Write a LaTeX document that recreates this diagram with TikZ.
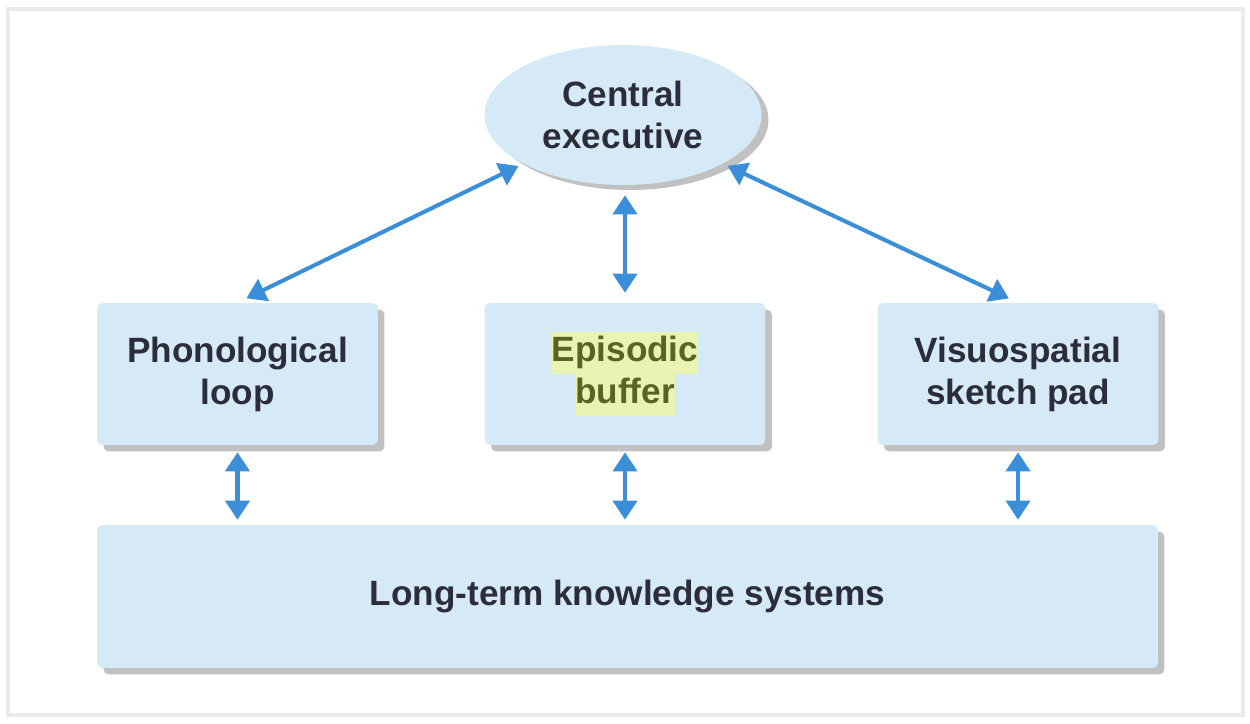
\documentclass[tikz,border=0pt]{standalone}
\usepackage{fontspec}
\setmainfont{Liberation Sans}
\usepackage{xcolor}
\usepackage{tikz}
\usetikzlibrary{arrows.meta,shapes.geometric,shadows}

\definecolor{boxblue}{HTML}{D6E9F6}
\definecolor{arrowblue}{HTML}{3A8FD8}
\definecolor{textdark}{HTML}{2B2D3A}
\definecolor{hlyellow}{HTML}{EAF3B2}
\definecolor{hltext}{HTML}{5B6320}

\newcommand{\surligne}[1]{{\setlength{\fboxsep}{0pt}\colorbox{hlyellow}{\strut #1}}}

\begin{document}
\begin{tikzpicture}[x=0.02cm,y=-0.02cm,
   double arrow/.style={{Triangle[length=3.8mm,width=4.8mm]}-{Triangle[length=3.8mm,width=4.8mm]},
      draw=arrowblue,line width=2.3pt},
   memory box/.style={rectangle,rounded corners=3pt,fill=boxblue,
      drop shadow={shadow xshift=0.13cm,shadow yshift=-0.13cm,fill=black!35,opacity=0.7},
      minimum width=5.62cm,minimum height=2.84cm,align=center,text=textdark,
      font=\fontsize{20}{24}\selectfont\bfseries},
   executive/.style={ellipse,fill=boxblue,
      drop shadow={shadow xshift=0.14cm,shadow yshift=-0.1cm,fill=black!35,opacity=0.7},
      minimum width=5.54cm,minimum height=2.8cm,inner sep=0pt,align=center,text=textdark,
      font=\fontsize{20}{24}\selectfont\bfseries}]

  \useasboundingbox (0,0) rectangle (1250,723);
  \draw[black!8,line width=2pt] (8,9) rectangle (1243,715);

  \node[executive](ce) at (623,115) {Central\\executive};
  \node[memory box](pl) at (237.5,374) {Phonological\\loop};
  \node[memory box,text=hltext](eb) at (625,374) {\surligne{Episodic}\\\surligne{buffer}};
  \node[memory box](vsp) at (1018,374) {Visuospatial\\sketch pad};
  \node[memory box,minimum width=21.22cm,minimum height=2.86cm](ltk) at (627.5,596.5)
     {Long-term knowledge systems};

  \draw[double arrow,shorten <=0.2cm,shorten >=0.1cm] (pl.north) -- (ce.206);
  \draw[double arrow,shorten <=0.2cm,shorten >=0.2cm] (eb.north |- ce.south) -- (eb.north);
  \draw[double arrow,shorten <=0.1cm,shorten >=0.2cm] (ce.-26) -- (vsp.north);

  \foreach \from in {pl,eb,vsp}
    \draw[double arrow,shorten <=0.14cm,shorten >=0.1cm] (\from.south) -- (\from.south |- ltk.north);
\end{tikzpicture}
\end{document}
